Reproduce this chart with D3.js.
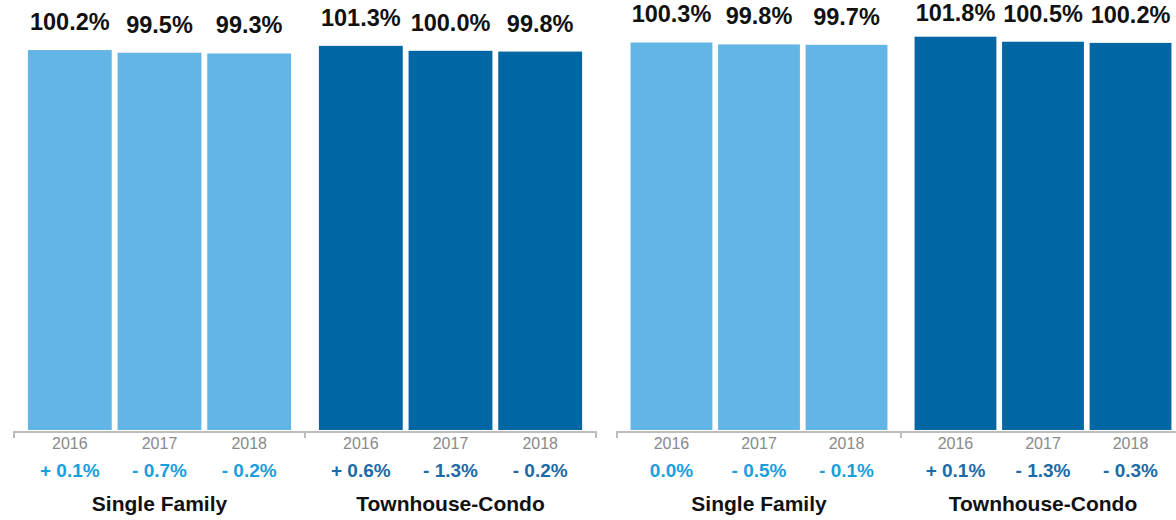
<!DOCTYPE html>
<html>
<head>
<meta charset="utf-8">
<script src="https://cdn.jsdelivr.net/npm/d3@7"></script>
<style>
  html, body { margin: 0; padding: 0; background: #fff; }
  svg { display: block; font-family: "Liberation Sans", Arial, Helvetica, sans-serif; }
</style>
</head>
<body>
<svg id="chart" width="1176" height="520"></svg>
<script>
// ---- data ----
const categories = ["Single Family", "Townhouse-Condo"];
const years = ["2016", "2017", "2018"];

const leftSingleFamily = [100.2, 99.5, 99.3];
const leftTownhouse = [101.3, 100.0, 99.8];
const leftSingleFamilyChange = ["+ 0.1%", "- 0.7%", "- 0.2%"];
const leftTownhouseChange = ["+ 0.6%", "- 1.3%", "- 0.2%"];

const rightSingleFamily = [100.3, 99.8, 99.7];
const rightTownhouse = [101.8, 100.5, 100.2];
const rightSingleFamilyChange = ["0.0%", "- 0.5%", "- 0.1%"];
const rightTownhouseChange = ["+ 0.1%", "- 1.3%", "- 0.3%"];

// ---- styles ----
const barColors = { "Single Family": "#62b5e5", "Townhouse-Condo": "#0066a4" };
const changeColors = { "Single Family": "#1a9fdc", "Townhouse-Condo": "#1c6aa8" };

const svg = d3.select("#chart");

const panels = [
  { x0: 14, x1: 596, yMax: 113.4,
    values: { "Single Family": leftSingleFamily, "Townhouse-Condo": leftTownhouse },
    changes: { "Single Family": leftSingleFamilyChange, "Townhouse-Condo": leftTownhouseChange } },
  { x0: 617, x1: 1185, yMax: 111.3,
    values: { "Single Family": rightSingleFamily, "Townhouse-Condo": rightTownhouse },
    changes: { "Single Family": rightSingleFamilyChange, "Townhouse-Condo": rightTownhouseChange } }
];

const baseY = 430;
const axisY = 432;

panels.forEach(p => {
  const x = d3.scaleBand().domain(categories).range([p.x0, p.x1]).padding(0);
  const xi = d3.scaleBand().domain(years).range([0, x.bandwidth()])
    .paddingInner(0.065).paddingOuter(0.155);
  const y = d3.scaleLinear().domain([0, p.yMax]).range([baseY, 0]);

  const g = svg.append("g");

  // axis line with ticks at group boundaries
  const bounds = [p.x0].concat(categories.map(c => x(c) + x.bandwidth()));
  let path = "";
  bounds.forEach((b, i) => {
    path += (i === 0 ? `M${b},${axisY + 6}V${axisY}` : `H${b}V${axisY + 6}M${b},${axisY}`);
  });
  g.append("path").attr("d", path).attr("fill", "none")
    .attr("stroke", "#bdbdbd").attr("stroke-width", 2);

  categories.forEach(cat => {
    const cg = g.append("g").attr("transform", `translate(${x(cat)},0)`);
    const vals = p.values[cat];
    const chg = p.changes[cat];
    const data = years.map((yr, i) => ({ yr, v: vals[i], c: chg[i] }));

    cg.selectAll("rect").data(data).join("rect")
      .attr("x", d => xi(d.yr))
      .attr("y", d => y(d.v))
      .attr("width", xi.bandwidth())
      .attr("height", d => baseY - y(d.v))
      .attr("fill", barColors[cat]);

    cg.selectAll("text.val").data(data).join("text")
      .attr("class", "val")
      .attr("x", d => xi(d.yr) + xi.bandwidth() / 2)
      .attr("y", d => Math.max(y(d.v) - 20, 21))
      .attr("text-anchor", "middle")
      .attr("font-size", 23.5).attr("font-weight", "bold").attr("fill", "#111")
      .text(d => d.v.toFixed(1) + "%");

    cg.selectAll("text.yr").data(data).join("text")
      .attr("class", "yr")
      .attr("x", d => xi(d.yr) + xi.bandwidth() / 2)
      .attr("y", 449)
      .attr("text-anchor", "middle")
      .attr("font-size", 16).attr("fill", "#8a8a8a")
      .text(d => d.yr);

    cg.selectAll("text.chg").data(data).join("text")
      .attr("class", "chg")
      .attr("x", d => xi(d.yr) + xi.bandwidth() / 2)
      .attr("y", 477)
      .attr("text-anchor", "middle")
      .attr("font-size", 19).attr("font-weight", "bold").attr("fill", changeColors[cat])
      .text(d => d.c);

    cg.append("text")
      .attr("x", x.bandwidth() / 2)
      .attr("y", 511)
      .attr("text-anchor", "middle")
      .attr("font-size", 21).attr("font-weight", "bold").attr("fill", "#111")
      .text(cat);
  });
});
</script>
</body>
</html>
